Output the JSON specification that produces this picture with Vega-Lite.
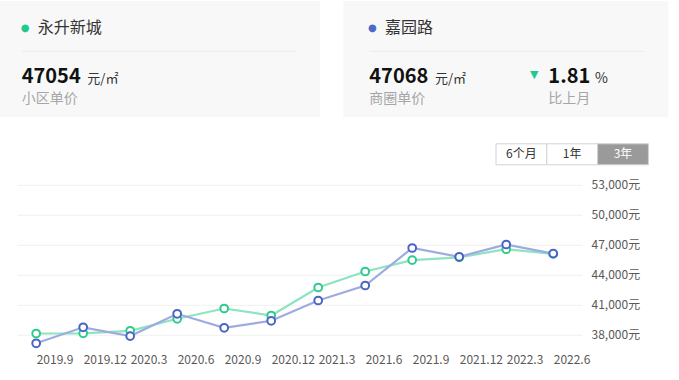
{
  "$schema": "https://vega.github.io/schema/vega-lite/v6.json",
  "padding": {"left": 0, "top": 1, "right": 0, "bottom": 0},
  "background": "white",
  "config": {"view": {"stroke": null}, "font": "Noto Sans CJK SC"},
  "spacing": 25.8,
  "vconcat": [
    {
      "hconcat": [
        {
          "width": 320,
          "height": 116,
          "view": {"fill": "#f8f8f9", "stroke": null},
          "data": {"values": [
            {"item": "dot", "row": "name", "col": "main", "text": "●"},
            {"item": "name", "row": "name", "col": "main", "text": "永升新城"},
            {"item": "rule", "row": "rule", "col": "main", "col2": "end"},
            {"item": "price", "row": "price", "col": "main", "text": "47054"},
            {"item": "unit", "row": "price", "col": "main", "text": "元/㎡"},
            {"item": "label", "row": "label", "col": "main", "text": "小区单价"}
          ]},
          "encoding": {
            "x": {"field": "col", "type": "nominal", "scale": {"type": "point", "padding": 0, "domain": ["main", "change", "end"], "range": [21.7, 296.7]}, "axis": null},
            "y": {"field": "row", "type": "nominal", "scale": {"type": "point", "padding": 0, "domain": ["name", "rule", "price", "label"], "range": [26.5, 98]}, "axis": null}
          },
          "layer": [
            {"transform": [{"filter": "datum.item === 'dot'"}], "mark": {"type": "text", "font": "DejaVu Sans", "fontSize": 10, "align": "center", "baseline": "middle", "dx": 3.3, "color": "#22c98b"}, "encoding": {"text": {"field": "text"}}},
            {"transform": [{"filter": "datum.item === 'name'"}], "mark": {"type": "text", "fontSize": 16, "align": "left", "baseline": "middle", "dx": 16, "color": "#333333"}, "encoding": {"text": {"field": "text"}}},
            {"transform": [{"filter": "datum.item === 'rule'"}], "mark": {"type": "rule", "color": "#ececec", "strokeWidth": 1}, "encoding": {"x2": {"field": "col2"}}},
            {"transform": [{"filter": "datum.item === 'price'"}], "mark": {"type": "text", "fontSize": 20, "fontWeight": "bold", "align": "left", "baseline": "middle", "dy": 1.5, "color": "#111111"}, "encoding": {"text": {"field": "text"}}},
            {"transform": [{"filter": "datum.item === 'unit'"}], "mark": {"type": "text", "fontSize": 13, "align": "left", "baseline": "middle", "dy": 4, "dx": 65.6, "color": "#333333"}, "encoding": {"text": {"field": "text"}}},
            {"transform": [{"filter": "datum.item === 'label'"}], "mark": {"type": "text", "fontSize": 14, "align": "left", "baseline": "middle", "color": "#a6a6a6"}, "encoding": {"text": {"field": "text"}}}
          ]
        },
        {
          "width": 325,
          "height": 116,
          "view": {"fill": "#f8f8f9", "stroke": null},
          "data": {"values": [
            {"item": "dot", "row": "name", "col": "main", "text": "●"},
            {"item": "name", "row": "name", "col": "main", "text": "嘉园路"},
            {"item": "rule", "row": "rule", "col": "main", "col2": "end"},
            {"item": "price", "row": "price", "col": "main", "text": "47068"},
            {"item": "unit", "row": "price", "col": "main", "text": "元/㎡"},
            {"item": "label", "row": "label", "col": "main", "text": "商圈单价"},
            {"item": "tri", "row": "price", "col": "change", "text": "▼"},
            {"item": "chg", "row": "price", "col": "change", "text": "1.81"},
            {"item": "pct", "row": "price", "col": "change", "text": "%"},
            {"item": "chglabel", "row": "label", "col": "change", "text": "比上月"}
          ]},
          "encoding": {
            "x": {"field": "col", "type": "nominal", "scale": {"type": "point", "padding": 0, "domain": ["main", "change", "end"], "range": [26, 300.7]}, "axis": null},
            "y": {"field": "row", "type": "nominal", "scale": {"type": "point", "padding": 0, "domain": ["name", "rule", "price", "label"], "range": [26.5, 98]}, "axis": null}
          },
          "layer": [
            {"transform": [{"filter": "datum.item === 'dot'"}], "mark": {"type": "text", "font": "DejaVu Sans", "fontSize": 10, "align": "center", "baseline": "middle", "dx": 3, "color": "#4d68c8"}, "encoding": {"text": {"field": "text"}}},
            {"transform": [{"filter": "datum.item === 'name'"}], "mark": {"type": "text", "fontSize": 16, "align": "left", "baseline": "middle", "dx": 15.7, "color": "#333333"}, "encoding": {"text": {"field": "text"}}},
            {"transform": [{"filter": "datum.item === 'rule'"}], "mark": {"type": "rule", "color": "#ececec", "strokeWidth": 1}, "encoding": {"x2": {"field": "col2"}}},
            {"transform": [{"filter": "datum.item === 'price'"}], "mark": {"type": "text", "fontSize": 20, "fontWeight": "bold", "align": "left", "baseline": "middle", "dy": 1.5, "color": "#111111"}, "encoding": {"text": {"field": "text"}}},
            {"transform": [{"filter": "datum.item === 'chg'"}], "mark": {"type": "text", "fontSize": 20, "fontWeight": "bold", "align": "left", "baseline": "middle", "dy": 1.5, "dx": 41.7, "color": "#111111"}, "encoding": {"text": {"field": "text"}}},
            {"transform": [{"filter": "datum.item === 'unit'"}], "mark": {"type": "text", "fontSize": 13, "align": "left", "baseline": "middle", "dy": 4, "dx": 65.7, "color": "#333333"}, "encoding": {"text": {"field": "text"}}},
            {"transform": [{"filter": "datum.item === 'label'"}], "mark": {"type": "text", "fontSize": 14, "align": "left", "baseline": "middle", "color": "#a6a6a6"}, "encoding": {"text": {"field": "text"}}},
            {"transform": [{"filter": "datum.item === 'tri'"}], "mark": {"type": "text", "font": "DejaVu Sans", "fontSize": 11, "align": "left", "baseline": "middle", "dx": 23.3, "color": "#22c98b"}, "encoding": {"text": {"field": "text"}}},
            {"transform": [{"filter": "datum.item === 'pct'"}], "mark": {"type": "text", "fontSize": 14, "align": "left", "baseline": "middle", "dy": 4, "dx": 88.3, "color": "#333333"}, "encoding": {"text": {"field": "text"}}},
            {"transform": [{"filter": "datum.item === 'chglabel'"}], "mark": {"type": "text", "fontSize": 14, "align": "left", "baseline": "middle", "dx": 41.7, "color": "#a6a6a6"}, "encoding": {"text": {"field": "text"}}}
          ]
        }
      ],
      "spacing": 23.3
    },
    {
      "vconcat": [
        {
          "hconcat": [
            {"width": 494.3, "height": 21, "data": {"values": []}, "mark": {"type": "point", "opacity": 0}},
            {
              "width": 152.4,
              "height": 21,
              "data": {"values": [
                {"label": "6个月", "active": "no"},
                {"label": "1年", "active": "no"},
                {"label": "3年", "active": "yes"}
              ]},
              "encoding": {"x": {"field": "label", "type": "nominal", "sort": null, "scale": {"type": "band", "paddingInner": 0, "paddingOuter": 0}, "axis": null}},
              "layer": [
                {"mark": {"type": "rect", "stroke": "#d2d2d2", "strokeWidth": 1}, "encoding": {"fill": {"field": "active", "type": "nominal", "scale": {"domain": ["no", "yes"], "range": ["#ffffff", "#9a9a9a"]}, "legend": null}}},
                {"mark": {"type": "text", "fontSize": 12, "baseline": "middle"}, "encoding": {"text": {"field": "label"}, "color": {"field": "active", "type": "nominal", "scale": {"domain": ["no", "yes"], "range": ["#333333", "#ffffff"]}, "legend": null}}}
              ],
              "resolve": {"scale": {"fill": "independent", "color": "independent"}}
            }
          ],
          "spacing": 0
        },
        {
          "hconcat": [
            {"width": 17, "height": 10, "data": {"values": []}, "mark": {"type": "point", "opacity": 0}},
            {
              "width": 565,
              "height": 165,
              "data": {"values": [
                {"period": "2019.9", "series": "永升新城", "price": 38130},
                {"period": "2019.12", "series": "永升新城", "price": 38150},
                {"period": "2020.3", "series": "永升新城", "price": 38400},
                {"period": "2020.6", "series": "永升新城", "price": 39600},
                {"period": "2020.9", "series": "永升新城", "price": 40630},
                {"period": "2020.12", "series": "永升新城", "price": 39930},
                {"period": "2021.3", "series": "永升新城", "price": 42730},
                {"period": "2021.6", "series": "永升新城", "price": 44330},
                {"period": "2021.9", "series": "永升新城", "price": 45470},
                {"period": "2021.12", "series": "永升新城", "price": 45750},
                {"period": "2022.3", "series": "永升新城", "price": 46560},
                {"period": "2022.6", "series": "永升新城", "price": 46100},
                {"period": "2019.9", "series": "嘉园路", "price": 37150},
                {"period": "2019.12", "series": "嘉园路", "price": 38750},
                {"period": "2020.3", "series": "嘉园路", "price": 37870},
                {"period": "2020.6", "series": "嘉园路", "price": 40100},
                {"period": "2020.9", "series": "嘉园路", "price": 38700},
                {"period": "2020.12", "series": "嘉园路", "price": 39400},
                {"period": "2021.3", "series": "嘉园路", "price": 41430},
                {"period": "2021.6", "series": "嘉园路", "price": 42930},
                {"period": "2021.9", "series": "嘉园路", "price": 46680},
                {"period": "2021.12", "series": "嘉园路", "price": 45800},
                {"period": "2022.3", "series": "嘉园路", "price": 47030},
                {"period": "2022.6", "series": "嘉园路", "price": 46120}
              ]},
              "encoding": {
                "x": {"field": "period", "type": "ordinal", "sort": null, "scale": {"type": "point", "padding": 0.51, "align": 0.4}, "axis": {"labelAlign": "left", "labelAngle": 0, "labelPadding": 5, "labelOverlap": false, "ticks": false, "domain": false, "grid": false, "title": null, "labelFontSize": 12, "labelColor": "#595959"}},
                "y": {"field": "price", "type": "quantitative", "scale": {"domain": [36500, 53000], "nice": false, "zero": false}, "axis": {"orient": "right", "values": [38000, 41000, 44000, 47000, 50000, 53000], "labelExpr": "format(datum.value, ',') + '元'", "labelOverlap": false, "ticks": false, "domain": false, "grid": true, "gridColor": "#f0f0f0", "labelPadding": 9, "title": null, "labelFontSize": 12, "labelColor": "#595959"}}
              },
              "layer": [
                {"transform": [{"filter": "datum.series === '永升新城'"}], "mark": {"type": "line", "strokeWidth": 2.2, "color": "#8ee3c1"}},
                {"transform": [{"filter": "datum.series === '嘉园路'"}], "mark": {"type": "line", "strokeWidth": 2.2, "color": "#9eabe0"}},
                {"transform": [{"filter": "datum.series === '永升新城'"}], "mark": {"type": "point", "filled": true, "fill": "#ffffff", "stroke": "#2dcb8c", "strokeWidth": 2, "size": 60, "opacity": 1}},
                {"transform": [{"filter": "datum.series === '嘉园路'"}], "mark": {"type": "point", "filled": true, "fill": "#ffffff", "stroke": "#4a64c5", "strokeWidth": 2, "size": 60, "opacity": 1}}
              ]
            }
          ],
          "spacing": 0
        }
      ],
      "spacing": 13
    }
  ]
}
